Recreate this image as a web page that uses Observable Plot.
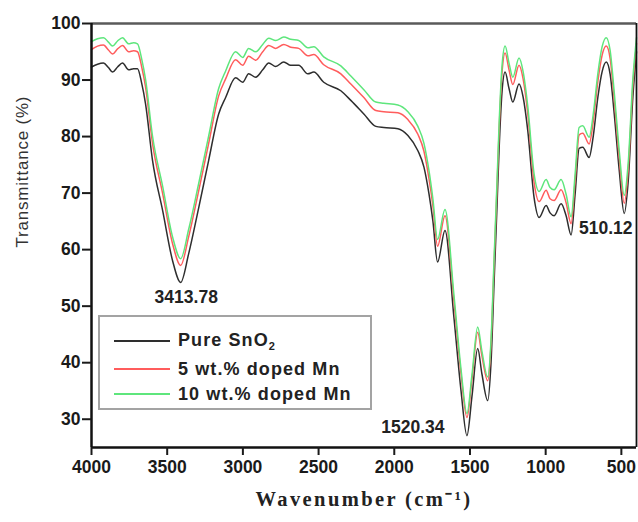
<!DOCTYPE html>
<html><head><meta charset="utf-8">
<script src="https://cdn.jsdelivr.net/npm/d3@7"></script>
<script src="https://cdn.jsdelivr.net/npm/@observablehq/plot@0.6"></script>
<style>
body{margin:0;background:#fff;}
#wrap{position:relative;width:638px;height:522px;font-family:"Liberation Sans",Arial,sans-serif;}
#legend{position:absolute;left:98px;top:315px;width:274px;height:95px;border:2px solid #a3a3a3;background:#fff;box-sizing:border-box;}
.item{position:absolute;left:14px;height:22px;display:flex;align-items:center;font-weight:bold;font-size:18px;color:#222;letter-spacing:1.1px;white-space:nowrap;}
.sw{width:56px;height:0;border-top:2px solid;margin-right:8px;}
.item sub{font-size:11px;vertical-align:-4px;}
</style></head>
<body><div id="wrap"></div>
<script>
// ---- data ----
const wavenumber = [4000,3960,3921,3888,3861,3828,3795,3755,3722,3696,3669,3643,3597,3530,3464,3411,3358,3292,3226,3160,3114,3048,3001,2962,2915,2869,2829,2783,2730,2684,2631,2571,2532,2466,2353,2287,2201,2122,2069,1976,1910,1844,1804,1771,1745,1714,1665,1606,1559,1520,1487,1449,1421,1383,1361,1341,1321,1308,1288,1268,1242,1217,1176,1149,1118,1077,1043,997,971,944,898,865,832,805,779,755,713,686,655,627,600,574,547,514,481,455,424,400];
const pureSnO2 = [92.3,92.8,93.0,92.2,91.4,92.3,93.0,91.8,92.0,92.0,89.5,85.8,75.8,66.9,58.0,54.2,59.3,67.4,75.8,84.0,86.9,90.4,89.6,91.1,90.5,91.8,93.0,92.4,93.2,92.6,92.6,91.1,91.4,89.6,88.1,86.4,84.0,81.8,81.6,81.4,80.2,77.5,74.6,69.9,65.1,57.8,63.4,48.0,35.0,27.1,34.0,42.5,38.0,33.3,40.0,54.0,68.0,77.5,88.0,91.4,88.5,86.1,89.3,87.0,81.0,69.3,65.7,67.8,66.5,66.0,68.1,66.0,62.6,70.0,77.9,78.1,76.3,80.0,87.0,91.5,93.2,91.0,84.0,74.0,66.4,72.0,87.0,95.0];
const mn5 = [95.4,96.0,96.2,95.3,94.6,95.5,96.1,95.0,95.2,95.0,92.4,88.8,78.8,69.9,61.0,57.2,62.3,70.4,78.8,87.2,90.2,93.6,92.6,94.2,93.5,95.0,96.1,95.6,96.3,95.8,95.6,94.3,94.5,92.7,91.1,89.3,86.9,84.6,84.4,84.2,83.0,80.4,77.4,72.6,67.8,60.6,66.0,50.9,38.0,30.3,37.0,45.4,41.2,36.8,43.2,57.2,71.2,80.7,91.4,94.8,91.8,89.2,92.6,90.2,84.0,72.0,68.5,70.5,69.0,68.7,70.6,68.3,64.6,72.3,80.3,80.6,78.7,82.6,89.8,94.4,96.0,93.8,86.5,76.2,68.2,74.0,89.0,96.5];
const mn10 = [96.8,97.3,97.5,96.7,96.0,96.9,97.5,96.4,96.6,96.4,93.8,90.1,80.1,71.2,62.2,58.4,63.6,71.7,80.1,88.5,91.6,95.0,94.0,95.6,95.0,96.3,97.4,97.0,97.6,97.2,97.0,95.7,95.9,94.1,92.5,90.7,88.3,86.1,85.9,85.6,84.4,81.8,78.8,74.0,69.0,61.8,67.1,52.0,38.8,31.0,37.8,46.3,42.0,37.5,44.0,58.2,72.3,81.9,92.6,96.0,93.0,90.5,93.9,91.5,85.3,73.5,70.3,72.4,71.0,70.6,72.4,69.8,65.8,73.5,81.6,81.9,79.9,83.9,91.2,95.9,97.5,95.2,87.8,77.5,69.6,75.3,90.2,97.5];
const seriesNames = ["Pure SnO2","5 wt.% doped Mn","10 wt.% doped Mn"];
const seriesColors = ["#2e2e2e","#ff5c5c","#5ee67c"];
const xDomain = [4000, 400];
const yDomain = [25, 100];
const xTicks = [4000,3500,3000,2500,2000,1500,1000,500];
const yTicks = [30,40,50,60,70,80,90,100];
const peakLabels = ["3413.78","1520.34","510.12"];
const xTitle = "Wavenumber (cm\u207B\u00B9)";
const yTitle = "Transmittance (%)";

// ---- build table ----
const seriesValues = [pureSnO2, mn5, mn10];
const rows = [];
seriesValues.forEach((vals, si) => vals.forEach((v, i) => rows.push({s: seriesNames[si], wn: wavenumber[i], t: v})));

// annotation anchor: minimum of pure curve near labeled wavenumber
function anchor(lbl, win) {
  const w = +lbl;
  let best = null;
  wavenumber.forEach((x, i) => { if (Math.abs(x - w) <= win && (best === null || pureSnO2[i] < best.t)) best = {wn: w, t: pureSnO2[i], label: lbl}; });
  return [best];
}

const font = "Liberation Sans, Arial, sans-serif";
const chart = Plot.plot({
  width: 638, height: 522,
  marginLeft: 91, marginRight: 2, marginTop: 23, marginBottom: 75,
  x: {domain: xDomain},
  y: {domain: yDomain},
  color: {domain: seriesNames, range: seriesColors},
  style: {fontFamily: font, background: "#fff", color: "#1a1a1a"},
  marks: [
    Plot.line(rows, {x: "wn", y: "t", z: "s", stroke: "s", strokeWidth: 1.5, curve: "monotone-x"}),
    Plot.ruleY([yDomain[1]], {stroke: "#5a5a5a", strokeWidth: 2.5}),
    Plot.ruleX([xDomain[1]], {stroke: "#111", strokeWidth: 1.8}),
    Plot.ruleX([xDomain[0]], {stroke: "#111", strokeWidth: 2.5}),
    Plot.ruleY([yDomain[0]], {stroke: "#111", strokeWidth: 2.5}),
    Plot.axisX({ticks: xTicks, tickFormat: d => String(d), tickSize: 8, tickPadding: 5, fontSize: 17.5, fontWeight: "bold", strokeWidth: 2, label: null}),
    Plot.axisY({ticks: yTicks, tickFormat: d => String(d), tickSize: 9, tickPadding: 2, fontSize: 17.5, fontWeight: "bold", strokeWidth: 2, label: null}),
    Plot.text(anchor(peakLabels[0], 60), {x: "wn", y: "t", text: "label", dx: 6, dy: 15, fontSize: 17.5, fontWeight: "bold", fill: "#222"}),
    Plot.text(anchor(peakLabels[1], 60), {x: "wn", y: "t", text: "label", dx: -54, dy: -8, fontSize: 17.5, fontWeight: "bold", fill: "#222"}),
    Plot.text(anchor(peakLabels[2], 60), {x: "wn", y: "t", text: "label", dx: -14, dy: 15, fontSize: 17.5, fontWeight: "bold", fill: "#222"}),
    Plot.text([yTitle], {frameAnchor: "left", rotate: -90, dx: -69, dy: 12, fontSize: 17, fill: "#333"}),
    Plot.text([xTitle], {frameAnchor: "bottom", dy: 58, fontSize: 20.5, fontWeight: "bold", fontFamily: "Liberation Serif, Times New Roman, serif", fill: "#222"})
  ]
});
const wrap = document.getElementById("wrap");
wrap.appendChild(chart);
chart.querySelectorAll("text").forEach(t => {
  if (t.textContent === xTitle) t.setAttribute("letter-spacing", "2.4");
  if (t.textContent === yTitle) t.setAttribute("letter-spacing", "0.8");
});

// legend
const legend = document.createElement("div");
legend.id = "legend";
const tops = [13, 41, 66];
seriesNames.forEach((n, i) => {
  const it = document.createElement("div");
  it.className = "item";
  it.style.top = tops[i] + "px";
  const sw = document.createElement("span");
  sw.className = "sw";
  sw.style.borderColor = seriesColors[i];
  it.appendChild(sw);
  const lab = document.createElement("span");
  if (n.endsWith("SnO2")) lab.innerHTML = n.slice(0, -1) + "<sub>2</sub>"; else lab.textContent = n;
  it.appendChild(lab);
  legend.appendChild(it);
});
wrap.appendChild(legend);
</script>
</body></html>
